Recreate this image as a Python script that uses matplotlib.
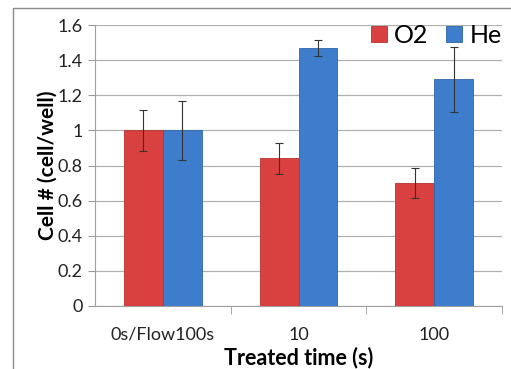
import matplotlib.pyplot as plt
import numpy as np
from matplotlib.patches import Rectangle

plt.rcParams['font.family'] = ['Lato', 'DejaVu Sans']

# data
categories = ['0s/Flow100s', '10', '100']
o2 = [1.00, 0.84, 0.70]
o2_err = [0.115, 0.088, 0.083]
he = [1.00, 1.47, 1.29]
he_err = [0.17, 0.045, 0.185]

red = '#D8413F'
blue = '#3E7DCB'

fig = plt.figure(figsize=(5.11, 3.69), dpi=100)
ax = fig.add_axes([95/511, 1 - 306/369, 407/511, 281/369])

x = np.arange(len(categories))
w = 0.287
ax.bar(x - w/2, o2, w, color=red, edgecolor='#B83230', linewidth=0.6,
       yerr=o2_err, error_kw=dict(ecolor='#333333', elinewidth=0.8, capsize=3, capthick=0.8),
       label='O2', zorder=3)
ax.bar(x + w/2, he, w, color=blue, edgecolor='#2F65A8', linewidth=0.6,
       yerr=he_err, error_kw=dict(ecolor='#333333', elinewidth=0.8, capsize=3, capthick=0.8),
       label='He', zorder=3)

ax.set_xlim(-0.5, 2.5)
ax.set_ylim(0, 1.6)
ax.set_yticks([0, 0.2, 0.4, 0.6, 0.8, 1.0, 1.2, 1.4, 1.6])
ax.set_yticklabels(['0', '0.2', '0.4', '0.6', '0.8', '1', '1.2', '1.4', '1.6'])
ax.set_xticks(x)
ax.set_xticklabels(categories)
ax.set_xticks([0.5, 1.5, 2.5], minor=True)
ax.tick_params(axis='x', which='major', length=0, pad=15, labelsize=13, colors='#222222')
ax.tick_params(axis='x', which='minor', length=6, color='#999999')
ax.tick_params(axis='y', length=5, color='#999999', labelsize=13, colors='#222222', pad=4)
ax.yaxis.grid(True, color='#B0B0B0', linewidth=0.9, zorder=0)
ax.set_axisbelow(True)
for s in ['top', 'right']:
    ax.spines[s].set_visible(False)
ax.spines['left'].set_color('#A0A0A0')
ax.spines['bottom'].set_color('#A0A0A0')

ax.set_xlabel('Treated time (s)', fontsize=15.5, fontweight='bold', labelpad=3)
ax.set_ylabel('Cell # (cell/well)', fontsize=15, fontweight='bold', labelpad=0)

leg = ax.legend(loc='upper right', bbox_to_anchor=(1.025, 1.04), frameon=False,
                fontsize=18, handlelength=0.65, handleheight=0.65, handletextpad=0.3,
                columnspacing=0.7, ncol=2, borderaxespad=0)

# outer chart border
fig.patches.append(Rectangle((13/511, -0.1), 1.2, 1 - 8/369 + 0.1, transform=fig.transFigure,
                             fill=False, edgecolor='#8C8C8C', linewidth=1.0))

fig.savefig('out.png', dpi=100)
